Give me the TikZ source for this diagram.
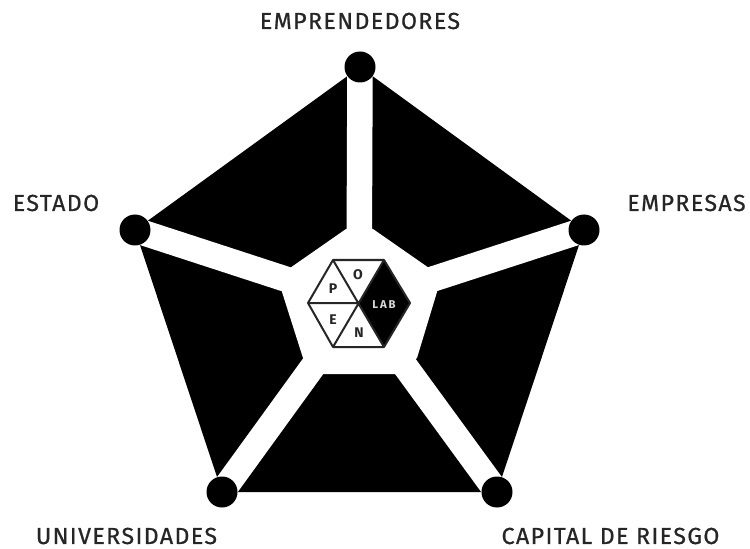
\documentclass[tikz,border=0pt]{standalone}
\usepackage{fontspec}
\setmainfont{Fira Sans}
\newfontfamily\lblfont[LetterSpace=6,FakeBold=0.7]{Fira Sans}
\begin{document}
\begin{tikzpicture}[x=0.75pt,y=-0.75pt,
  hub/.style={circle,fill=black,draw=none,minimum size=31*0.75pt,inner sep=0pt},
  spoke/.style={draw=white,line width=25.5*0.75pt},
  lab/.style={font=\lblfont\fontsize{17.4pt}{19pt}\selectfont,text=black!85,inner sep=0pt},
  hexline/.style={draw=black!85,line width=1.5pt,line join=round},
  hexlet/.style={font=\fontsize{10.5pt}{11pt}\selectfont\bfseries,text=black!85,inner sep=0pt}]
\useasboundingbox (0,0) rectangle (750,549);
\coordinate (c) at (359,303);
\coordinate (nT) at (360,67);
\coordinate (nL) at (135,230);
\coordinate (nR) at (584,230);
\coordinate (nBL) at (222,492);
\coordinate (nBR) at (497,492);
\fill[black] (nT) -- (nR) -- (nBR) -- (nBL) -- (nL) -- cycle;
\fill[white] (346,229) -- (373,229) -- (429,268) -- (437,292) -- (417,358) -- (397,374)
  -- (323,374) -- (303,358) -- (282,292) -- (290,268) -- cycle;
\foreach \e in {nT,nL,nR,nBL,nBR} \draw[spoke] (c) -- (\e);
\node[hub] (t) at (nT) {};
\node[hub] (l) at (nL) {};
\node[hub] (r) at (nR) {};
\node[hub] (bl) at (nBL) {};
\node[hub] (br) at (nBR) {};
% hexagon
\coordinate (h1) at (308,303);
\coordinate (h2) at (333,260);
\coordinate (h3) at (384,260);
\coordinate (h4) at (410,303);
\coordinate (h5) at (384,347);
\coordinate (h6) at (333,347);
\fill[black] (h3) -- (h4) -- (h5) -- (c) -- cycle;
\draw[hexline] (h1) -- (h2) -- (h3) -- (h4) -- (h5) -- (h6) -- cycle;
\draw[hexline] (h1) -- (c) (h2) -- (h5) (h3) -- (h6);
\node[hexlet] (lp) at (333,289) {P};
\node[hexlet] (lo) at (358,275) {O};
\node[hexlet] (le) at (333,320) {E};
\node[hexlet] (ln) at (359,333) {N};
\node[hexlet,text=white!85!black,font=\fontsize{8.5pt}{9pt}\selectfont\bfseries] (llab) at (384,305) {L\,A\,B};
\node[lab] (a) at (360,21) {EMPRENDEDORES};
\node[lab] (b) at (56,203) {ESTADO};
\node[lab] (d) at (686.5,203) {EMPRESAS};
\node[lab] (e) at (126.5,536) {UNIVERSIDADES};
\node[lab] (f) at (610.5,536) {CAPITAL DE RIESGO};
\end{tikzpicture}
\end{document}
